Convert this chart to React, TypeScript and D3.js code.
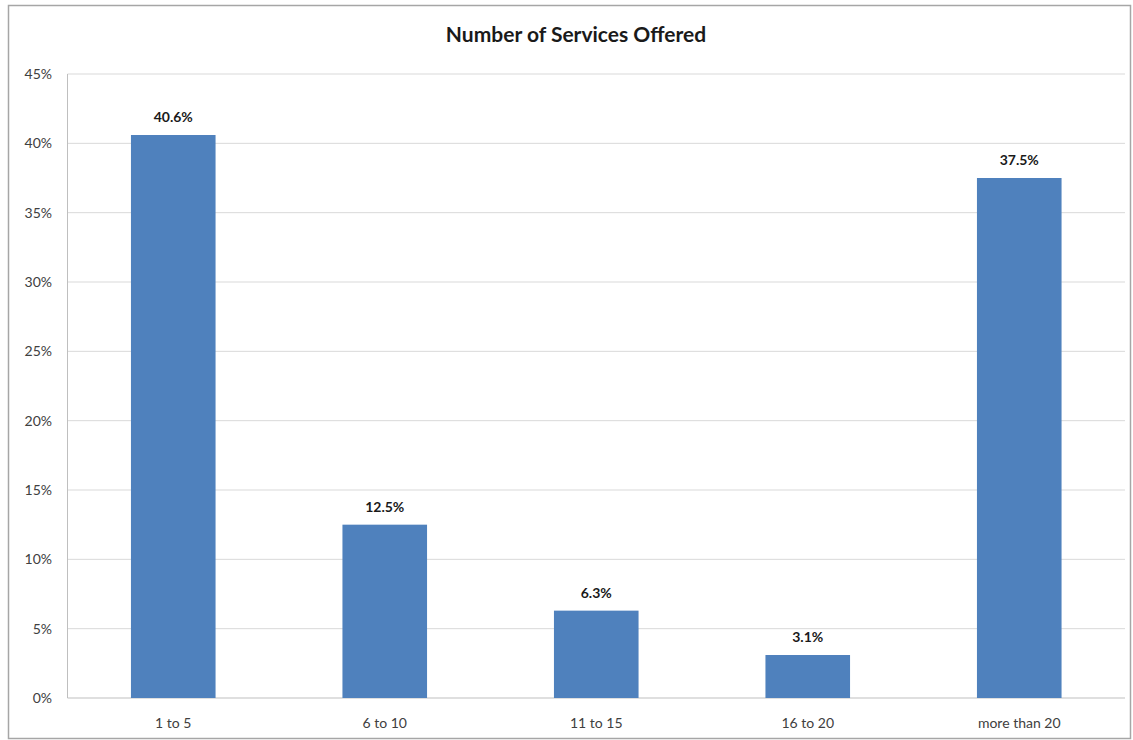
import React from "react";
import * as d3 from "d3";

const categories = ["1 to 5", "6 to 10", "11 to 15", "16 to 20", "more than 20"];
const values = [40.6, 12.5, 6.3, 3.1, 37.5];
const yTicks = [0, 5, 10, 15, 20, 25, 30, 35, 40, 45];
const title = "Number of Services Offered";

export default function App() {
  const W = 1133, H = 740;
  const left = 67.5, right = 1125, top = 74, bottom = 698;
  const x = d3.scaleBand<string>().domain(categories).range([left, right]).paddingInner(0.6).paddingOuter(0.3);
  const y = d3.scaleLinear().domain([0, 45]).range([bottom, top]);
  const font = "Lato, 'Open Sans', 'Liberation Sans', sans-serif";
  return (
    <svg width={W} height={H} style={{ position: "absolute", left: 0, top: 0 }} fontFamily={font}>
      <rect x={0} y={0} width={W} height={H} fill="#fff" />
      <rect x={8.5} y={5.5} width={1122} height={733} fill="none" stroke="#a6a6a6" strokeWidth={1.5} />
      <text x={576} y={42} textAnchor="middle" fontSize={21} fontWeight="bold" fill="#1a1a1a">{title}</text>
      {yTicks.map(t => (
        <g key={t}>
          {t > 0 && <line x1={left} x2={right} y1={y(t)} y2={y(t)} stroke="#d9d9d9" strokeWidth={1} />}
          <text x={52} y={y(t) + 5} textAnchor="end" fontSize={14} fill="#404040">{t}%</text>
        </g>
      ))}
      <line x1={left} x2={left} y1={top} y2={bottom} stroke="#bfbfbf" strokeWidth={1} />
      <line x1={left} x2={right} y1={bottom} y2={bottom} stroke="#bfbfbf" strokeWidth={1} />
      {categories.map((c, i) => (
        <g key={c}>
          <rect x={x(c)!} y={y(values[i])} width={x.bandwidth()} height={bottom - y(values[i])} fill="#4f81bd" />
          <text x={x(c)! + x.bandwidth() / 2} y={y(values[i]) - 13} textAnchor="middle" fontSize={14} fontWeight="bold" fill="#1a1a1a">{values[i].toFixed(1)}%</text>
          <text x={x(c)! + x.bandwidth() / 2} y={728} textAnchor="middle" fontSize={14} fill="#404040">{c}</text>
        </g>
      ))}
    </svg>
  );
}
